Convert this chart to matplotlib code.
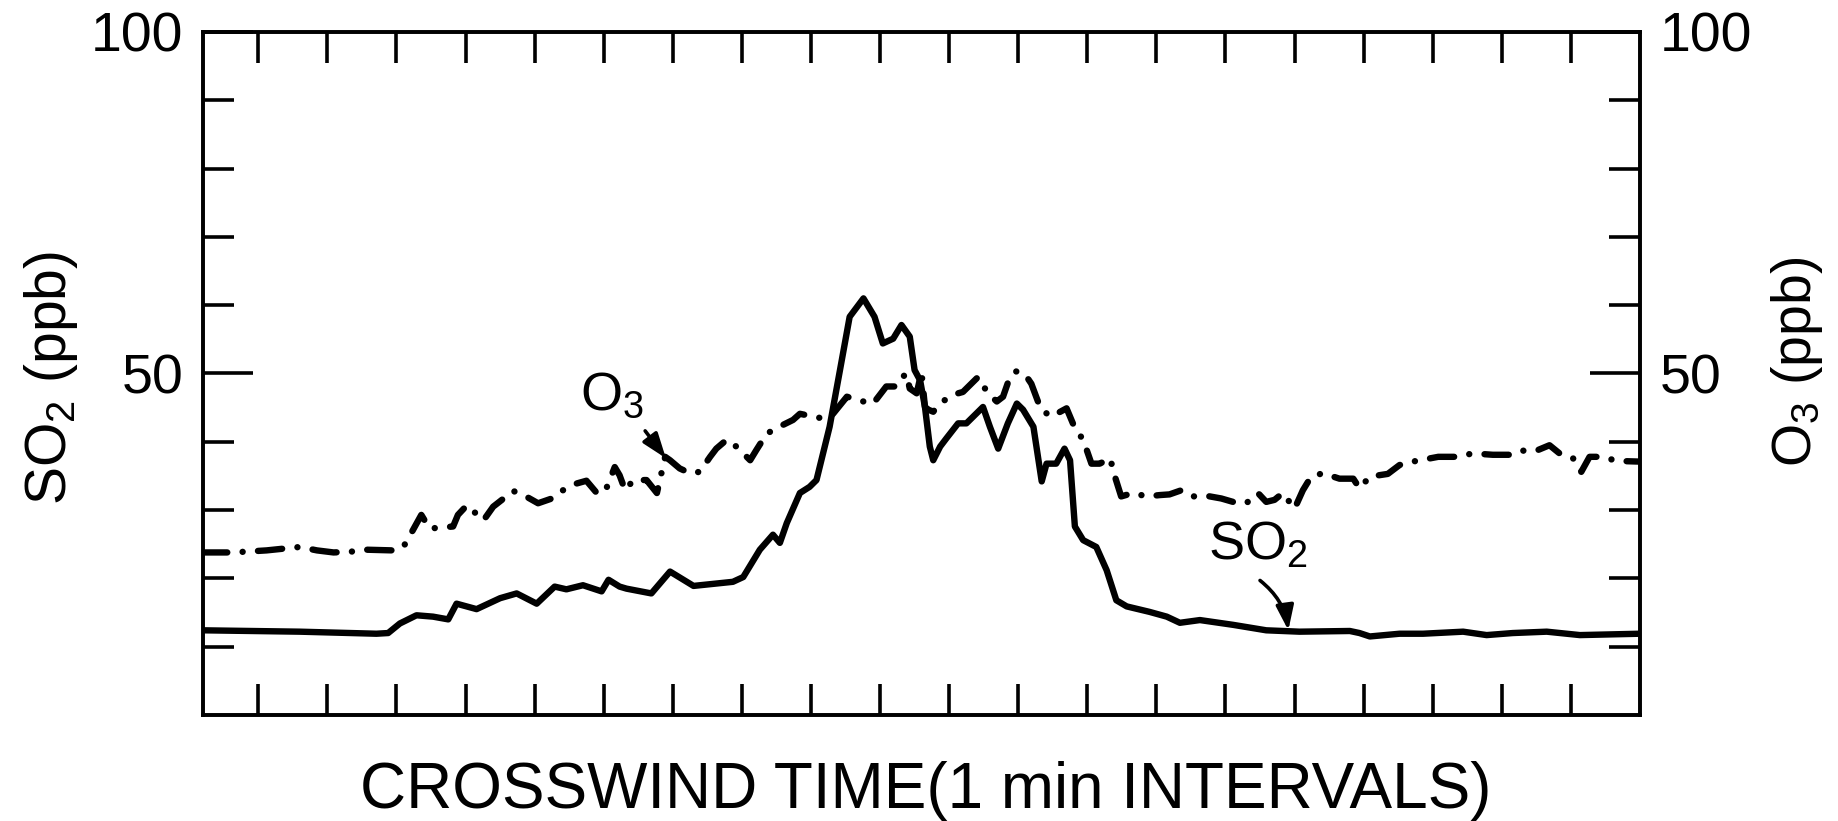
import matplotlib
matplotlib.use("Agg")
import matplotlib.pyplot as plt
from matplotlib.ticker import FixedLocator, NullFormatter

plt.rcParams['font.family'] = ['Liberation Sans', 'DejaVu Sans']
plt.rcParams['mathtext.fontset'] = 'custom'
plt.rcParams['mathtext.rm'] = 'Liberation Sans'
plt.rcParams['mathtext.it'] = 'Liberation Sans:italic'
plt.rcParams['mathtext.bf'] = 'Liberation Sans:bold'

# ---------------- data ----------------
# time in 1-minute intervals (tick k = minute k), concentrations in ppb
so2_time = [-0.8, 0.60, 1.71, 1.88, 2.05, 2.29, 2.53, 2.75, 2.87, 3.16, 3.50, 3.74,
            4.03, 4.29, 4.46, 4.70, 4.97, 5.07, 5.23, 5.33, 5.69, 5.96, 6.30, 6.87,
            7.02, 7.26, 7.45, 7.55, 7.65, 7.84, 7.98, 8.08, 8.27, 8.42, 8.56, 8.76,
            8.92, 9.04, 9.19, 9.31, 9.43, 9.50, 9.58, 9.65, 9.72, 9.77, 9.87, 9.96,
            10.13, 10.25, 10.49, 10.59, 10.71, 10.85, 10.98, 11.07, 11.22, 11.34,
            11.41, 11.55, 11.67, 11.75, 11.82, 11.94, 12.13, 12.28, 12.42, 12.57,
            12.90, 13.15, 13.34, 13.63, 14.11, 14.59, 15.07, 15.80, 15.94, 16.09,
            16.52, 16.86, 17.44, 17.78, 18.16, 18.65, 19.13, 20.0]
so2_ppb = [12.4, 12.2, 11.9, 12.0, 13.4, 14.6, 14.4, 14.0, 16.3, 15.5, 17.1, 17.8,
           16.3, 18.8, 18.4, 19.0, 18.1, 19.8, 18.8, 18.5, 17.8, 21.0, 18.9, 19.5,
           20.2, 24.2, 26.4, 25.2, 28.1, 32.5, 33.4, 34.4, 42.2, 50.5, 58.3, 61.0,
           58.3, 54.4, 55.1, 57.1, 55.4, 50.5, 49.0, 45.1, 39.3, 37.3, 39.3, 40.5,
           42.7, 42.7, 45.1, 42.2, 39.0, 42.7, 45.6, 44.7, 42.2, 34.2,
           36.8, 36.8, 39.0, 37.3, 27.6, 25.6, 24.6, 21.2, 16.8, 15.9,
           15.1, 14.4, 13.5, 13.9, 13.2, 12.4, 12.2, 12.3, 12.0, 11.5,
           11.9, 11.9, 12.2, 11.7, 12.0, 12.2, 11.7, 11.9]

o3_time = [-0.8, -0.37, 0.12, 0.41, 0.60, 0.85, 1.09, 1.33, 1.57, 1.95, 2.10, 2.24,
           2.36, 2.48, 2.82, 2.89, 3.02, 3.26, 3.40, 3.55, 3.69, 3.84, 4.05, 4.25,
           4.37, 4.61, 4.75, 4.90, 5.02, 5.16, 5.23, 5.31, 5.43, 5.62, 5.77, 5.89,
           5.96, 6.10, 6.25, 6.39, 6.54, 6.63, 6.78, 6.92, 7.12, 7.21, 7.36, 7.60,
           7.74, 7.84, 8.03, 8.23, 8.32, 8.52, 8.76, 8.90, 9.09, 9.24, 9.33, 9.38,
           9.43, 9.53, 9.60, 9.65, 9.70, 9.77, 9.86, 10.06, 10.20, 10.42, 10.56,
           10.69, 10.78, 10.88, 10.97, 11.09, 11.19, 11.33, 11.48, 11.70, 11.82,
           11.94, 12.06, 12.18, 12.33, 12.40, 12.49, 12.66, 12.86, 13.05, 13.19,
           13.36, 13.53, 13.72, 13.94, 14.11, 14.30, 14.47, 14.59, 14.71, 14.83,
           15.00, 15.12, 15.24, 15.41, 15.56, 15.65, 15.85, 15.94, 16.09, 16.35,
           16.52, 16.71, 17.08, 17.34, 17.58, 17.87, 18.16, 18.31, 18.50, 18.69,
           18.86, 19.03, 19.15, 19.27, 19.46, 19.66, 20.0]
o3_ppb = [23.8, 23.8, 24.1, 24.4, 24.6, 24.1, 23.8, 23.9, 24.2, 24.1, 24.6, 27.1,
          29.3, 27.3, 27.6, 29.3, 30.7, 28.5, 30.5, 31.7, 32.8, 32.2, 31.0, 31.7,
          32.7, 33.9, 34.3, 32.5, 32.7, 36.3, 35.1, 32.9, 34.4, 34.4, 32.5, 37.8,
          37.3, 36.1, 35.4, 35.6, 37.8, 39.0, 40.3, 39.3, 37.3, 38.8, 41.2, 42.5,
          43.2, 44.1, 43.7, 43.3, 44.1, 46.6, 45.9, 45.6, 48.1, 48.1, 49.5, 50.0,
          47.8, 47.1, 50.2, 45.1, 44.7, 44.4, 45.6, 46.9, 47.3, 49.5, 47.1,
          45.9, 46.6, 49.5, 50.3, 50.0, 48.5, 44.7, 43.7, 44.9, 42.0,
          40.3, 36.8, 36.8, 37.6, 34.9, 32.0, 32.5, 32.0, 32.2, 32.3,
          32.9, 32.0, 32.1, 31.7, 31.2, 31.0, 32.5, 31.2, 31.5, 32.5,
          30.2, 32.9, 34.9, 35.4, 34.9, 34.6, 34.6, 33.2, 34.9, 35.3,
          36.6, 37.1, 37.8, 37.8, 38.3, 38.1, 38.1, 38.7, 38.7, 39.5,
          38.1, 37.6, 35.6, 37.8, 37.8, 37.2, 37.1]

minute_ticks = list(range(20))
y_major_ticks = [50, 100]
y_major_labels = ['50', '100']
y_minor_ticks = [10, 20, 30, 40, 60, 70, 80, 90]

x_label = 'CROSSWIND TIME(1 min INTERVALS)'
so2_label = 'SO$_2$ (ppb)'
o3_label = 'O$_3$ (ppb)'

# ---------------- figure ----------------
W, H = 1838, 821
fig = plt.figure(figsize=(W / 100, H / 100), dpi=100)
ax = fig.add_axes([203 / W, (H - 715) / H, 1437 / W, 683 / H])
ax2 = ax.twinx()

LW = 4.6
ax.plot(so2_time, so2_ppb, color='black', lw=LW,
        solid_capstyle='round', solid_joinstyle='round', zorder=3)
ax2.plot(o3_time, o3_ppb, color='black', lw=LW,
         linestyle=(0, (3.8, 2.4, 0.01, 2.4)),
         dash_capstyle='round', dash_joinstyle='round', zorder=3)

for a in (ax, ax2):
    a.set_xlim(-0.8, 20.0)
    a.set_ylim(0, 100)
    for s in a.spines.values():
        s.set_linewidth(2.6)
    a.yaxis.set_major_locator(FixedLocator(y_major_ticks))
    a.yaxis.set_minor_locator(FixedLocator(y_minor_ticks))
    a.set_yticklabels(y_major_labels)
    a.yaxis.set_minor_formatter(NullFormatter())
    a.tick_params(axis='y', which='major', direction='in', length=36,
                  width=2.6, pad=14, labelsize=40)
    a.tick_params(axis='y', which='minor', direction='in', length=22,
                  width=2.6)

ax.xaxis.set_major_locator(FixedLocator(minute_ticks))
ax.tick_params(axis='x', which='major', direction='in', length=22, width=2.6,
               top=True, bottom=True, labelbottom=False, labeltop=False)
ax.tick_params(axis='y', which='both', left=True, right=False)
ax2.tick_params(axis='y', which='both', left=False, right=True)

ax.set_xlabel(x_label, fontsize=46)
ax.xaxis.set_label_coords(0.503, -0.068)

ax.set_ylabel(so2_label, fontsize=41)
ax.yaxis.set_label_coords(-0.0856, 0.493)
ax2.set_ylabel(o3_label, fontsize=40)
ax2.yaxis.set_label_coords(1.0898, 0.517)

# in-plot labels with arrows
head = '-|>,head_length=0.5,head_width=0.18'
ax.text(4.66, 44.7, 'O$_3$', fontsize=39, ha='left', va='baseline')
ax.annotate('', xy=(5.90, 37.6), xytext=(5.60, 41.6),
            arrowprops=dict(arrowstyle=head, color='black', lw=2.6,
                            mutation_scale=30, shrinkA=0, shrinkB=0))
ax.text(13.75, 22.7, 'SO$_2$', fontsize=39, ha='left', va='baseline')
ax.annotate('', xy=(14.91, 12.4), xytext=(14.50, 19.7),
            arrowprops=dict(arrowstyle=head, color='black', lw=2.6,
                            mutation_scale=30, shrinkA=0, shrinkB=0,
                            connectionstyle='arc3,rad=-0.2'))

fig.savefig('out.png', dpi=100)
